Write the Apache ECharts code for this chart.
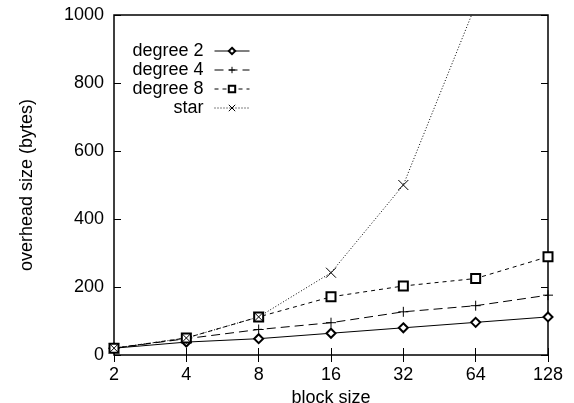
<!DOCTYPE html>
<html>
<head>
<meta charset="utf-8">
<script src="https://cdn.jsdelivr.net/npm/echarts@6/dist/echarts.min.js"></script>
<style>
  html, body { margin: 0; padding: 0; background: #fff; }
  #chart { width: 574px; height: 403px; }
</style>
</head>
<body>
<div id="chart"></div>
<script>
// block sizes (x, log2 axis)
var blockSizes = [2, 4, 8, 16, 32, 64, 128];
// overhead size in bytes
var degree2 = [20, 38, 48, 64, 80, 96, 112];
var degree4 = [20, 48, 75, 95, 127, 145, 176];
var degree8 = [20, 50, 112, 171, 203, 225, 289];
var star = [20, 50, 112, 242, 500, 1030, null];
var yTicks = [0, 200, 400, 600, 800, 1000];

var seriesNames = ['degree 2', 'degree 4', 'degree 8', 'star'];

function pairs(vals) {
  return blockSizes.map(function (x, i) { return [x, vals[i]]; });
}

var plusPath = 'path://M0,-5L0,5M-5,0L5,0';
var crossPath = 'path://M-5,-5L5,5M-5,5L5,-5';

var font = 'Liberation Sans, Arial, Helvetica, sans-serif';

function makeSeries(name, vals, symbol, size, dash) {
  return {
    name: name,
    type: 'line',
    data: pairs(vals),
    symbol: symbol,
    symbolSize: size,
    showAllSymbol: true,
    connectNulls: false,
    clip: true,
    lineStyle: { color: '#000', width: 1, type: dash },
    itemStyle: { color: '#000', borderColor: '#000', borderWidth: 1 },
    emphasis: { disabled: true },
    z: 3
  };
}

// one legend per row so the samples line up on the right (gnuplot style)
var legendRows = seriesNames.map(function (name, i) {
  return {
    data: [name],
    right: 319,
    top: 37 + i * 19,
    orient: 'vertical',
    align: 'right',
    itemWidth: 35,
    itemHeight: 8,
    itemGap: 0,
    selectedMode: false,
    itemStyle: { borderWidth: 1 },
    lineStyle: { width: 1 },
    textStyle: { color: '#000', fontSize: 18, fontFamily: font, padding: [0, 6, 0, 0] }
  };
});

var chart = echarts.init(document.getElementById('chart'));

var option = {
  animation: false,
  backgroundColor: '#fff',
  legend: legendRows,
  grid: {
    left: 114, right: 26, top: 15, bottom: 48,
    outerBoundsMode: 'none',
    containLabel: false,
    show: true, borderColor: '#000', borderWidth: 1.5,
    backgroundColor: 'transparent'
  },
  xAxis: [{
    type: 'log',
    logBase: 2,
    min: 2,
    max: 128,
    name: 'block size',
    nameLocation: 'middle',
    nameGap: 30,
    nameTextStyle: { color: '#000', fontSize: 18, fontFamily: font },
    axisLine: { show: false },
    axisTick: { inside: true, length: 7, lineStyle: { color: '#000', width: 1 } },
    minorTick: { show: false },
    splitLine: { show: false },
    axisLabel: {
      color: '#000', fontSize: 18, fontFamily: font, margin: 11,
      formatter: function (v) { return blockSizes.indexOf(Math.round(v)) >= 0 ? String(Math.round(v)) : ''; }
    }
  }, {
    type: 'log',
    logBase: 2,
    min: 2,
    max: 128,
    position: 'top',
    axisLine: { show: false },
    axisTick: { inside: true, length: 7, lineStyle: { color: '#000', width: 1 } },
    splitLine: { show: false },
    axisLabel: { show: false }
  }],
  yAxis: [{
    type: 'value',
    min: yTicks[0],
    max: yTicks[yTicks.length - 1],
    interval: 200,
    name: 'overhead size (bytes)',
    nameLocation: 'middle',
    nameGap: 78,
    nameTextStyle: { color: '#000', fontSize: 18, fontFamily: font },
    axisLine: { show: false },
    axisTick: { inside: true, length: 7, lineStyle: { color: '#000', width: 1 } },
    splitLine: { show: false },
    axisLabel: {
      color: '#000', fontSize: 18, fontFamily: font, margin: 10,
      formatter: function (v) { return String(v); }
    }
  }, {
    type: 'value',
    min: yTicks[0],
    max: yTicks[yTicks.length - 1],
    interval: 200,
    position: 'right',
    axisLine: { show: false },
    axisTick: { inside: true, length: 7, lineStyle: { color: '#000', width: 1 } },
    splitLine: { show: false },
    axisLabel: { show: false }
  }],
  series: [
    makeSeries(seriesNames[0], degree2, 'emptyDiamond', 9, 'solid'),
    makeSeries(seriesNames[1], degree4, plusPath, 10, [9, 5]),
    makeSeries(seriesNames[2], degree8, 'emptyRect', 9, [4, 4]),
    makeSeries(seriesNames[3], star, crossPath, 10, [1, 2])
  ]
};

chart.setOption(option);
</script>
</body>
</html>
